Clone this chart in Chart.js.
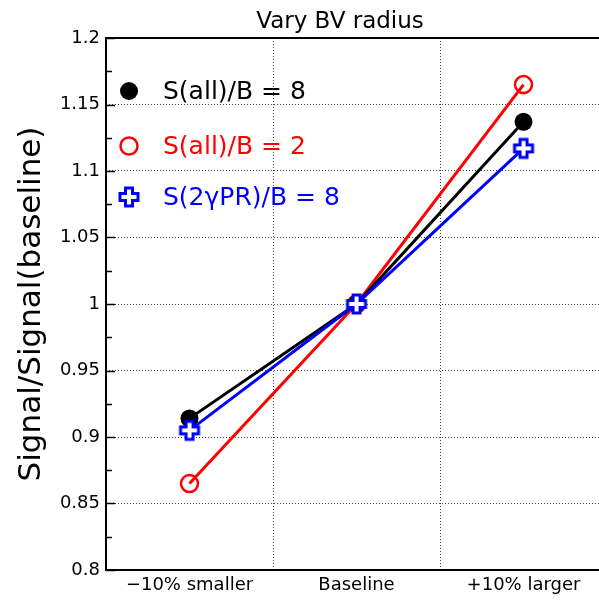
<!DOCTYPE html>
<html>
<head>
<meta charset="utf-8">
<script src="https://cdn.jsdelivr.net/npm/chart.js@4/dist/chart.umd.min.js"></script>
<style>
  html, body { margin: 0; padding: 0; background: #fff; }
  #wrap { width: 599px; height: 601px; }
</style>
</head>
<body>
<div id="wrap"><canvas id="c" width="599" height="601"></canvas></div>
<script>
const categories = ['\u221210% smaller', 'Baseline', '+10% larger'];
const allB8 = [0.914, 1.0, 1.137];
const allB2 = [0.865, 1.0, 1.165];
const gprB8 = [0.905, 1.0, 1.117];
const seriesLabels = ['S(all)/B = 8', 'S(all)/B = 2', 'S(2\u03b3PR)/B = 8'];
const titleText = 'Vary BV radius';
const yTitle = 'Signal/Signal(baseline)';

const FONT = '"DejaVu Sans", sans-serif';

// plus-shaped marker, white inside, blue outline
function plusMarker(size) {
  const c = document.createElement('canvas');
  c.width = size; c.height = size;
  const g = c.getContext('2d');
  const m = size / 2, h = 9, a = 3.5;
  g.beginPath();
  g.moveTo(m - a, m - h); g.lineTo(m + a, m - h); g.lineTo(m + a, m - a);
  g.lineTo(m + h, m - a); g.lineTo(m + h, m + a); g.lineTo(m + a, m + a);
  g.lineTo(m + a, m + h); g.lineTo(m - a, m + h); g.lineTo(m - a, m + a);
  g.lineTo(m - h, m + a); g.lineTo(m - h, m - a); g.lineTo(m - a, m - a);
  g.closePath();
  g.fillStyle = '#fff';
  g.fill();
  g.lineWidth = 3;
  g.strokeStyle = '#0000ff';
  g.stroke();
  return c;
}
const plusImg = plusMarker(24);

const isMajor = v => Math.abs(v * 20 - Math.round(v * 20)) < 1e-6;

const toPts = arr => arr.map((v, i) => ({ x: i, y: v }));

const decor = {
  id: 'decor',
  afterDraw(chart) {
    const { ctx, chartArea: a, scales } = chart;
    const ys = scales.y, xs = scales.x;
    ctx.save();
    // frame
    ctx.strokeStyle = '#000';
    ctx.lineWidth = 2;
    ctx.beginPath();
    ctx.moveTo(a.left, a.top); ctx.lineTo(chart.width, a.top);
    ctx.moveTo(a.left, a.top - 1); ctx.lineTo(a.left, a.bottom + 1);
    ctx.moveTo(a.left, a.bottom); ctx.lineTo(chart.width, a.bottom);
    ctx.stroke();
    // inner tick marks on y axis
    ctx.lineWidth = 1.5;
    ctx.beginPath();
    ys.ticks.forEach(t => {
      const py = Math.round(ys.getPixelForValue(t.value)) + 0.5;
      const len = isMajor(t.value) ? 9 : 6;
      ctx.moveTo(a.left, py); ctx.lineTo(a.left + len, py);
    });
    ctx.stroke();

    // category labels
    ctx.fillStyle = '#000';
    ctx.font = '18px ' + FONT;
    ctx.textAlign = 'center';
    ctx.textBaseline = 'middle';
    categories.forEach((c, i) => ctx.fillText(c, xs.getPixelForValue(i), a.bottom + 15));

    // title
    ctx.font = '23px ' + FONT;
    ctx.textBaseline = 'alphabetic';
    ctx.fillText(titleText, 340, 28);

    // y title
    ctx.save();
    ctx.translate(40, (a.top + a.bottom) / 2);
    ctx.rotate(-Math.PI / 2);
    ctx.font = '31px ' + FONT;
    ctx.fillText(yTitle, 0, 0);
    ctx.restore();

    // legend
    const rows = [91, 146, 197];
    const colors = ['#000000', '#ff0000', '#0000ff'];
    ctx.font = '25px ' + FONT;
    ctx.textAlign = 'left';
    ctx.textBaseline = 'middle';
    rows.forEach((ry, i) => {
      const mx = 129;
      if (i === 0) {
        ctx.beginPath(); ctx.arc(mx, ry, 9, 0, Math.PI * 2);
        ctx.fillStyle = '#000'; ctx.fill();
      } else if (i === 1) {
        ctx.beginPath(); ctx.arc(mx, ry, 8.5, 0, Math.PI * 2);
        ctx.lineWidth = 2.5; ctx.strokeStyle = '#ff0000'; ctx.stroke();
      } else {
        ctx.drawImage(plusImg, mx - 12, ry - 12);
      }
      ctx.fillStyle = colors[i];
      ctx.fillText(seriesLabels[i], 163, ry + 1);
    });
    ctx.restore();
  }
};

new Chart(document.getElementById('c'), {
  type: 'line',
  data: {
    datasets: [
      {
        label: seriesLabels[0], data: toPts(allB8),
        borderColor: '#000', borderWidth: 3,
        pointRadius: 9, pointBackgroundColor: '#000', pointBorderColor: '#000', pointBorderWidth: 0,
        order: 1
      },
      {
        label: seriesLabels[1], data: toPts(allB2),
        borderColor: '#ff0000', borderWidth: 3,
        pointRadius: 8.5, pointBackgroundColor: 'rgba(255,255,255,0)', pointBorderColor: '#ff0000', pointBorderWidth: 2.5,
        order: 2
      },
      {
        label: seriesLabels[2], data: toPts(gprB8),
        borderColor: '#0000ff', borderWidth: 3,
        pointStyle: plusImg, pointRadius: 12,
        order: 0
      }
    ]
  },
  options: {
    responsive: false,
    animation: false,
    layout: { autoPadding: false, padding: { top: 38, right: 0, left: 0, bottom: 0 } },
    plugins: {
      legend: { display: false },
      title: { display: false },
      tooltip: { enabled: false }
    },
    scales: {
      x: {
        type: 'linear',
        min: -0.5,
        max: 2.452,
        afterBuildTicks: s => { s.ticks = [0.5, 1.5].map(v => ({ value: v })); },
        afterFit: s => { s.height = 31; },
        grid: {
          drawTicks: false,
          lineWidth: 1,
          color: '#444'
        },
        border: { display: false, dash: [1, 2] },
        ticks: { display: false }
      },
      y: {
        min: 0.8,
        max: 1.2,
        afterFit: s => { s.width = 106; },
        grid: {
          drawTicks: false,
          lineWidth: 1,
          color: c => (c.tick && isMajor(c.tick.value) && c.tick.value > 0.81) ? '#444' : 'rgba(0,0,0,0)'
        },
        border: { display: false, dash: [1, 2] },
        ticks: {
          stepSize: 0.025,
          autoSkip: false,
          padding: 6,
          color: '#000',
          font: { family: FONT, size: 18 },
          callback: v => isMajor(v) ? String(parseFloat(v.toFixed(2))) : ''
        }
      }
    }
  },
  plugins: [decor]
});
</script>
</body>
</html>
